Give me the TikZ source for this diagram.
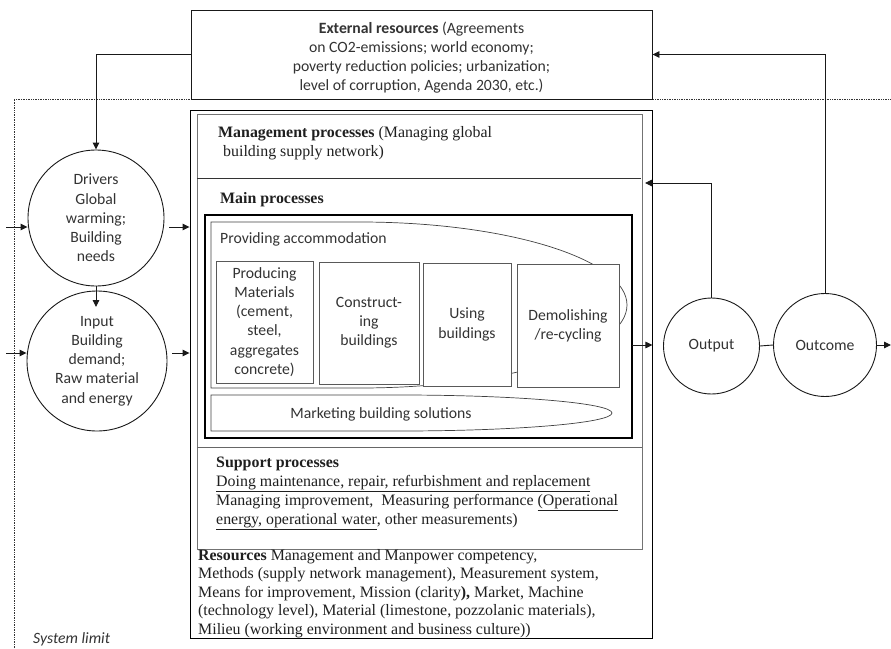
\documentclass[tikz,border=0pt]{standalone}
\usepackage{fontspec}
\setmainfont{Liberation Serif}
\newfontfamily\calib{Carlito}
\usetikzlibrary{arrows.meta}
\begin{document}
\begin{tikzpicture}[x=1pt,y=-1pt,
  sans/.style={font=\calib\fontsize{15.7}{19.2}\selectfont, text=black!80},
  serif/.style={font=\fontsize{15.9}{19}\selectfont, text=black!88, inner sep=0pt},
  circ/.style={circle, draw=black!90, line width=0.9pt, inner sep=0pt, align=center},
  pbox/.style={draw=black!65, fill=white, line width=0.8pt, inner sep=0pt, align=center},
  arr/.style={-{Triangle[length=7pt,width=6.5pt]}, line width=0.9pt, draw=black!90},
  conn/.style={line width=0.9pt, draw=black!90}]
\useasboundingbox (0,0) rectangle (891,648);

% system limit (dotted)
\draw[densely dotted, line width=0.7pt, black!80] (14,648) -- (14,99) -- (891,99);
\node[sans, font=\calib\itshape\fontsize{15.7}{19}\selectfont, anchor=base west, inner sep=0pt] (syslim) at (33,643) {System limit};

% external resources
\node[draw=black!90, fill=white, line width=0.9pt, minimum width=461pt, minimum height=89pt, inner sep=0pt] (ext) at (421.5,54.5) {};
\node[sans, align=center] (exttxt) at (421.5,57.5) {\textbf{External resources} (Agreements\\on CO2-emissions; world economy;\\poverty reduction policies; urbanization;\\level of corruption, Agenda 2030, etc.)};

% system boxes
\node[draw=black, line width=0.9pt, minimum width=462pt, minimum height=528pt, inner sep=0pt] (sys) at (421,374) {};
\node[draw=black!55, line width=0.8pt, minimum width=445pt, minimum height=435pt, inner sep=0pt] (proc) at (419.5,331.5) {};
\draw[black!80, line width=0.8pt] (197,178) -- (641,178);
\draw[black!60, line width=0.8pt] (197,447) -- (642,447);
\node[draw=black, line width=1.8pt, minimum width=427pt, minimum height=223pt, inner sep=0pt] (main) at (418.5,326.5) {};

\node[serif, anchor=base west, align=left] (mgmt) at (218,156) {\textbf{Management processes} (Managing global\\\hspace*{5pt}building supply network)};
\node[serif, anchor=base west] (maintxt) at (220,203) {\textbf{Main processes}};

% providing accommodation
\draw[black!75, line width=0.7pt] (211,222) -- (360,222) arc[start angle=-90, end angle=90, x radius=267, y radius=83] -- (211,388) -- cycle;
\node[sans, anchor=base west, inner sep=0pt] (prov) at (220,243) {Providing accommodation};

\node[pbox, sans, minimum width=97pt, minimum height=122pt] (prod) at (264.5,322) {Producing\\Materials\\(cement,\\steel,\\aggregates\\concrete)};
\node[pbox, sans, minimum width=100pt, minimum height=122pt] (cons) at (369,323) {Construct-\\ing\\buildings};
\node[pbox, sans, minimum width=88pt, minimum height=123pt] (using) at (467,324.5) {Using\\buildings};
\node[pbox, sans, minimum width=102pt, minimum height=123pt] (demo) at (568,325.5) {Demolishing\\/re-cycling};

% marketing
\draw[black!75, line width=0.7pt] (211,395) -- (400,395) arc[start angle=-90, end angle=90, x radius=212, y radius=18] -- (211,431) -- cycle;
\node[sans, anchor=base, inner sep=0pt] (mark) at (381,418) {Marketing building solutions};

% support & resources
\node[serif, anchor=base west, align=left] (supp) at (216,524) {\textbf{Support processes}\\
\underline{Doing maintenance, repair, refurbishment and replacement}\\
Managing improvement,\ \ Measuring performance \underline{(Operational}\\
\underline{energy, operational water}, other measurements)};
\node[serif, font=\fontsize{15.9}{18.5}\selectfont, anchor=base west, align=left] (res) at (198,634) {\textbf{Resources} Management and Manpower competency,\\
Methods (supply network management), Measurement system,\\
Means for improvement, Mission (clarity\textbf{),} Market, Machine\\
(technology level), Material (limestone, pozzolanic materials),\\
Milieu (working environment and business culture))};

% circles
\node[circ, sans, minimum size=136pt] (drivers) at (96,218) {Drivers\\Global\\warming;\\Building\\needs};
\node[circ, sans, minimum size=140pt] (input) at (97,361) {Input\\Building\\demand;\\Raw material\\and energy};
\node[circ, sans, minimum size=96pt] (output) at (711.5,346) {Output};
\node[circ, sans, minimum size=103pt] (outcome) at (825,345) {Outcome};

% connectors
\draw[arr] (ext.west) -| (drivers.north);
\coordinate (di) at (96,307);
\draw[arr] (drivers.south) -- (di);
\coordinate (inD) at (6,227);
\draw[arr] (inD) -- (inD -| drivers.west);
\coordinate (inI) at (6,353);
\draw[arr] (inI) -- (inI -| input.west);
\coordinate (d1) at (169,227);
\draw[arr] (d1) -- (d1 -| sys.west);
\coordinate (i1) at (172,353);
\draw[arr] (i1) -- (i1 -| sys.west);
\coordinate (m1) at (632,345);
\draw[arr] (m1) -- (m1 -| sys.east);
\draw[conn] (output.east) -- (outcome.west);
\coordinate (outR) at (891,345);
\draw[arr] (outcome.east) -- (outR);
\coordinate (fb) at (645,183);
\draw[arr] (output.north) |- (fb);
\draw[arr] (outcome.north) |- (ext.east);
\end{tikzpicture}
\end{document}
